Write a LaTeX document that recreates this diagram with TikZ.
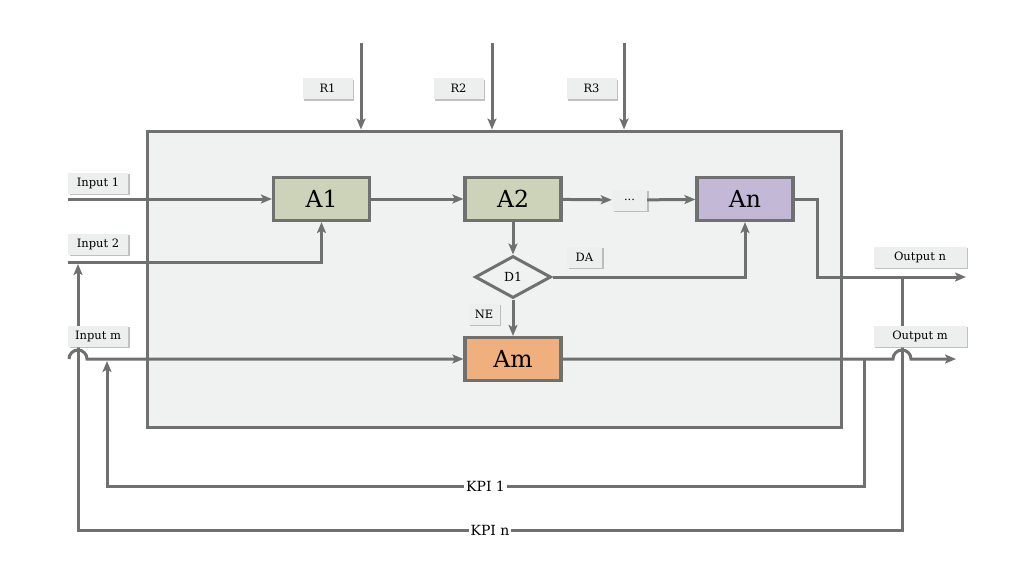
\documentclass[tikz,border=0pt]{standalone}
\usepackage{fontspec}
\setmainfont{DejaVu Serif}
\usetikzlibrary{shapes.geometric,arrows.meta,shadows}
\definecolor{ln}{HTML}{707070}
\definecolor{bgc}{HTML}{F0F1F1}
\definecolor{lblc}{HTML}{EDEEEE}
\definecolor{cgreen}{HTML}{CCD3B8}
\definecolor{cpurple}{HTML}{C3B9D7}
\definecolor{corange}{HTML}{F0B07E}
\tikzset{
  conn/.style={draw=ln, line width=3pt},
  arr/.style={conn, -{Stealth[length=11pt,width=9pt,inset=2.5pt]}},
  proc/.style={draw=ln, line width=3.2pt, minimum width=96pt, minimum height=43pt, inner sep=0pt, font=\fontsize{23.5}{26}\selectfont},
  lbl/.style={fill=lblc, inner sep=0pt, minimum height=21pt, font=\fontsize{11.5}{13}\selectfont,
    drop shadow={shadow xshift=1.5pt, shadow yshift=-1.5pt, fill=black!35, opacity=0.7}},
  kpi/.style={fill=white, inner sep=2pt, font=\fontsize{14}{16}\selectfont},
  dec/.style={diamond, draw=ln, line width=3pt, fill=bgc, minimum width=76pt, minimum height=42pt, inner sep=0pt, aspect=1.8, font=\fontsize{12.5}{14}\selectfont}
}
\begin{document}
\begin{tikzpicture}[x=1pt,y=-1pt]
\useasboundingbox (0,0) rectangle (1024,576);
\fill[white] (0,0) rectangle (1024,576);
% system box
\node[draw=ln, line width=3pt, fill=bgc, minimum width=694pt, minimum height=296pt, anchor=north west, inner sep=0pt] (sys) at (145.5,129.5) {};
% processes
\node[proc, fill=cgreen] (A1) at (321.5,199) {A1};
\node[proc, fill=cgreen] (A2) at (513,199) {A2};
\node[proc, fill=cpurple] (An) at (745,199) {An};
\node[proc, fill=corange] (Am) at (513,359) {Am};
\node[dec] (D1) at (513,277) {D1};
\node[lbl, minimum width=35pt] (dots) at (629.5,200) {...};
\node[lbl, minimum width=35pt] (DA) at (584.5,257) {DA};
\node[lbl, minimum width=31pt] (NE) at (484,314) {NE};
% resource labels
\node[lbl, minimum width=50pt] (R1) at (327.5,88.5) {R1};
\node[lbl, minimum width=50pt] (R2) at (458.5,88.5) {R2};
\node[lbl, minimum width=50pt] (R3) at (591.5,88.5) {R3};
% IO labels
\node[lbl, minimum width=60pt] (in1l) at (98,183) {Input 1};
\node[lbl, minimum width=60pt] (in2l) at (98,244) {Input 2};
% coordinates
\coordinate (r1) at (361,43);
\coordinate (r2) at (492,43);
\coordinate (r3) at (624,43);
\coordinate (in1) at (68,199);
\coordinate (in2) at (68,262);
\coordinate (inm) at (69,359);
\coordinate (outn) at (966,277);
\coordinate (hopm) at (893,359);
\coordinate (outm) at (956,359);
\coordinate (k1a) at (864,359);
\coordinate (k1b) at (864,486);
\coordinate (k1c) at (107,486);
\coordinate (k1d) at (107,361);
\coordinate (kna) at (902,277);
\coordinate (knb) at (902,530);
\coordinate (knc) at (78,530);
\coordinate (knd) at (78,264);
% resource arrows
\draw[arr] (r1) -- (r1 |- sys.north);
\draw[arr] (r2) -- (r2 |- sys.north);
\draw[arr] (r3) -- (r3 |- sys.north);
% inputs
\draw[arr] (in1) -- (A1.west);
\draw[arr] (in2) -| (A1.south);
\draw[arr] (inm) arc[start angle=180, end angle=360, radius=9] -- (Am.west);
% flow
\draw[arr] (A1) -- (A2);
\draw[arr] (A2) -- (dots);
\draw[arr] (dots) -- (An);
\draw[arr] (A2) -- (D1);
\draw[arr] (D1.east) -| (An.south);
\draw[arr] (D1) -- (Am);
% outputs
\draw[arr] (An.east) -- ++(23,0) |- (outn);
% KPIs
\draw[arr] (k1a) -- (k1b) -- node[kpi] (kpi1) {KPI 1} (k1c) -- (k1d);
\draw[arr] (kna) -- (knb) -- node[kpi] (kpin) {KPI n} (knc) -- (knd);
\draw[arr] (Am.east) -- (hopm) arc[start angle=180, end angle=360, radius=9] -- (outm);
% labels on top of crossing lines
\node[lbl, minimum width=93pt] (outnl) at (920,257) {Output n};
\node[lbl, minimum width=93pt] (outml) at (920,336) {Output m};
\node[lbl, minimum width=60pt] (inml) at (98,336) {Input m};
\end{tikzpicture}
\end{document}
